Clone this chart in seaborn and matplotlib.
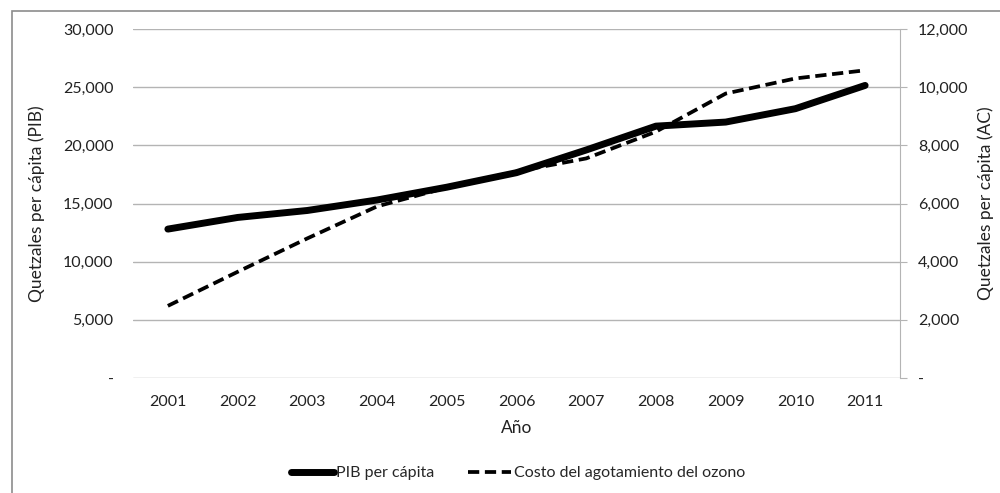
import numpy as np
import pandas as pd
import seaborn as sns
import matplotlib.pyplot as plt
from matplotlib.lines import Line2D
from matplotlib.patches import Rectangle
from matplotlib.ticker import FuncFormatter

years = ['2001', '2002', '2003', '2004', '2005', '2006', '2007', '2008', '2009', '2010', '2011']
pib = [12800, 13800, 14400, 15300, 16400, 17650, 19600, 21650, 22000, 23150, 25150]
costo = [2480, 3650, 4800, 5900, 6550, 7100, 7550, 8470, 9780, 10300, 10580]

df = pd.DataFrame({'year': years, 'pib': pib, 'costo': costo})
df['x'] = np.arange(len(years))

sns.set_style('white')
plt.rcParams['font.family'] = ['Lato', 'DejaVu Sans']
plt.rcParams['font.size'] = 11

fig = plt.figure(figsize=(10, 4.93), dpi=100)
ax = fig.add_axes([0.133, 1 - 378 / 493, 0.767, (378 - 29) / 493])
ax2 = ax.twinx()

sns.lineplot(data=df, x='x', y='pib', ax=ax, color='black', lw=5, solid_capstyle='round')
sns.lineplot(data=df, x='x', y='costo', ax=ax2, color='black', lw=2.7, dashes=False)
ax2.lines[0].set_linestyle((0, (3, 1.5)))

ax.set_xlim(-0.5, 10.5)
ax.set_ylim(0, 30000)
ax2.set_ylim(0, 12000)
ax.set_yticks(range(0, 30001, 5000))
ax2.set_yticks(range(0, 12001, 2000))
fmt = FuncFormatter(lambda v, p: '-' if v == 0 else f'{int(v):,}')
ax.yaxis.set_major_formatter(fmt)
ax2.yaxis.set_major_formatter(fmt)
ax.set_xticks(df['x'])
ax.set_xticklabels(years)

ax.grid(axis='y', color='#b4b4b4', lw=1)
for a in (ax, ax2):
    for s in a.spines.values():
        s.set_visible(False)
ax2.spines['right'].set_visible(True)
ax2.spines['right'].set_color('#b4b4b4')
ax.tick_params(axis='y', length=0, pad=14, labelsize=11.5, colors='#222222')
ax.tick_params(axis='x', length=0, pad=12, labelsize=11.5, colors='#222222')
ax2.tick_params(axis='y', length=5, pad=8, labelsize=11.5, colors='#222222')
ax2.tick_params(axis='y', color='#b4b4b4')

ax.set_xlabel('Año', fontsize=12.5, labelpad=8, color='#222222')
ax.set_ylabel('Quetzales per cápita (PIB)', fontsize=12.5, color='#222222')
ax2.set_ylabel('Quetzales per cápita (AC)', fontsize=12.5, color='#222222')
ax.yaxis.set_label_coords(-0.1147, 0.5)
ax2.yaxis.set_label_coords(1.101, 0.5)

handles = [Line2D([], [], color='black', lw=5),
           Line2D([], [], color='black', lw=2.7, ls=(0, (3, 1.5)))]
fig.legend(handles, ['PIB per cápita', 'Costo del agotamiento del ozono'],
           loc='center', bbox_to_anchor=(0.518, 1 - 473 / 493), ncol=2, frameon=False,
           handlelength=2.7, handletextpad=0.15, columnspacing=2.1, fontsize=11.5)

fig.patches.append(Rectangle((12 / 1000, -0.1), 1.2, 1 - 11 / 493 + 0.1, transform=fig.transFigure,
                             fill=False, ec='#8c8c8c', lw=1.2))

fig.savefig('out.png', dpi=100)
